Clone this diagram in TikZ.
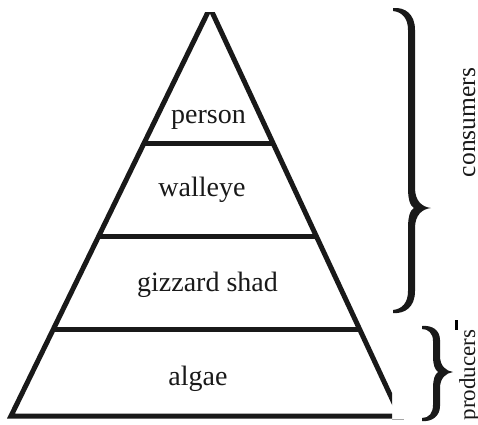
\documentclass[tikz,border=0pt]{standalone}
\usepackage{fontspec}
\setmainfont{Liberation Serif}
\usetikzlibrary{calc}
\tikzset{
  edge/.style={line width=5pt, black!90},
  tier/.style={font=\fontsize{28}{32}\selectfont, anchor=base, inner sep=0pt, text=black!90},
  side/.style={anchor=base, rotate=90, inner sep=0pt, text=black!90},
  bracefill/.style={fill=black!90, draw=none}
}
\begin{document}
\begin{tikzpicture}[x=1pt,y=-1pt]
\useasboundingbox (0,0) rectangle (478,424);
% pyramid geometry
\coordinate (topL) at (208,12);
\coordinate (botL) at (11,416);
\coordinate (topR) at (212,12);
\coordinate (botR) at (400,416);
\coordinate (l1) at ($(topL)!0.3267!(botL)$);
\coordinate (r1) at ($(topR)!0.3267!(botR)$);
\coordinate (l2) at ($(topL)!0.5557!(botL)$);
\coordinate (r2) at ($(topR)!0.5557!(botR)$);
\coordinate (l3) at ($(topL)!0.7859!(botL)$);
\coordinate (r3) at ($(topR)!0.7859!(botR)$);
\coordinate (aL) at ($(topL)!-0.03!(botL)$);
\coordinate (aR) at ($(topR)!-0.03!(botR)$);
\begin{scope}
  \clip (0,12) rectangle (392,424);
  \draw[edge, line join=miter] (aL) -- (botL) -- (botR) -- (aR);
\end{scope}
\draw[edge] (l1) -- (r1);
\draw[edge] (l2) -- (r2);
\draw[edge] (l3) -- (r3);
\coordinate (g1) at (392,419.5);
\coordinate (g2) at (404,419.5);
\draw[black!35, line width=0.8pt] (g1) -- (g2);
% tier labels
\node[tier] (person) at (208.5,123) {person};
\node[tier] (walleye) at (202,196) {walleye};
\node[tier] (shad) at (207.5,291.5) {gizzard shad};
\node[tier] (algae) at (198,385) {algae};
% big brace
\path[bracefill] (393,8) .. controls (405,7) and (415,14) .. (415,30)
  -- (415,188)
  .. controls (415,201) and (422,207) .. (431,208)
  .. controls (422,209) and (415,215) .. (415,228)
  -- (415,291)
  .. controls (415,307) and (405,314) .. (393,313)
  -- (393,310)
  .. controls (402,309) and (408,303) .. (408,291)
  -- (408,228)
  .. controls (408,217) and (410,210) .. (414,208)
  .. controls (410,206) and (408,199) .. (408,188)
  -- (408,30)
  .. controls (408,18) and (402,12) .. (393,11)
  -- cycle;
% small brace
\path[bracefill] (422,326) .. controls (432,325) and (440,330) .. (440,340)
  -- (440,356)
  .. controls (440,366) and (446,371) .. (453,372)
  .. controls (446,373) and (440,378) .. (440,388)
  -- (440,406)
  .. controls (440,416) and (432,422) .. (422,421)
  -- (422,418)
  .. controls (429,418) and (433,413) .. (433,405)
  -- (433,388)
  .. controls (433,379) and (435,374) .. (438,372)
  .. controls (435,370) and (433,365) .. (433,356)
  -- (433,341)
  .. controls (433,333) and (428,329) .. (422,329)
  -- cycle;
% side labels
\node[side] (cons) at (475,122.5) {\fontsize{25.5}{28}\selectfont consumers};
\node[side] (prod) at (475,375) {\fontsize{23}{26}\selectfont producers};
\coordinate (b1) at (456.5,320);
\coordinate (b2) at (456.5,330);
\draw[black, line width=3.5pt] (b1) -- (b2);
\end{tikzpicture}
\end{document}
